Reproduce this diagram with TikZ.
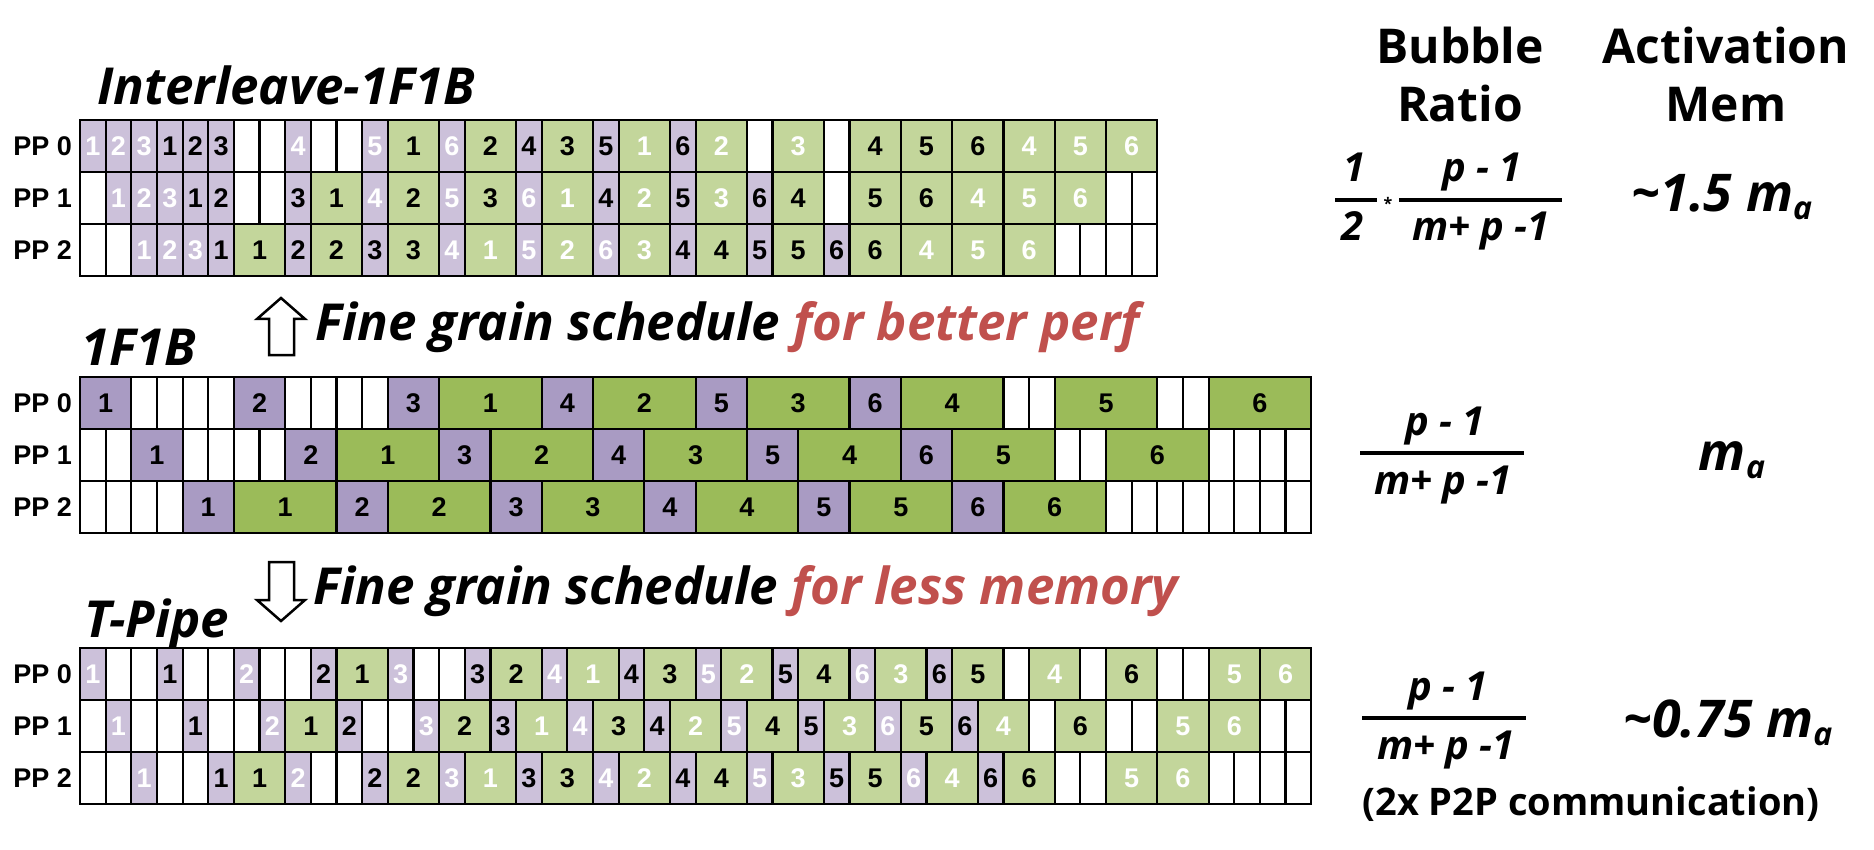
\documentclass[tikz,border=0pt]{standalone}
\usepackage{fontspec}
\setmainfont{Open Sans}
\newfontfamily\arialf{Liberation Sans}
\definecolor{lpur}{HTML}{CCC1DA}
\definecolor{lgrn}{HTML}{C3D69B}
\definecolor{dpur}{HTML}{A99BC3}
\definecolor{dgrn}{HTML}{9BBB59}
\definecolor{redtxt}{HTML}{C0504D}
\newcount\cellpos
\expandafter\def\csname cwe\endcsname{1}
\expandafter\def\csname cwa\endcsname{1}
\expandafter\def\csname cwA\endcsname{1}
\expandafter\def\csname cwg\endcsname{2}
\expandafter\def\csname cwG\endcsname{2}
\expandafter\def\csname cwP\endcsname{2}
\expandafter\def\csname cwQ\endcsname{4}
\def\unitw{25.65}
\newcommand\schedrow[4]{%
  \global\cellpos=0
  \foreach \ty/\lb in {#4}{%
    \pgfmathsetmacro\cwid{\csname cw\ty\endcsname*\unitw}%
    \pgfmathsetmacro\cxx{#2+\the\cellpos*\unitw}%
    \edef\mkcell{\noexpand\node[cell, c\ty, minimum width=\cwid pt] (#1-\the\cellpos) at (\cxx, #3) {\lb};}%
    \mkcell
    \global\advance\cellpos by \csname cw\ty\endcsname\relax
  }%
}
\begin{document}
\begin{tikzpicture}[x=1pt,y=-1pt,
  cell/.style={draw=black, line width=2.2pt, anchor=north west, outer sep=0pt, inner sep=0pt, minimum height=52pt, fill=white, text=black, font=\arialf\bfseries\fontsize{27}{27}\selectfont},
  ce/.style={fill=white},
  ca/.style={fill=lpur, text=white},
  cA/.style={fill=lpur, text=black},
  cg/.style={fill=lgrn, text=white},
  cG/.style={fill=lgrn, text=black},
  cP/.style={fill=dpur, text=black},
  cQ/.style={fill=dgrn, text=black},
  pplab/.style={anchor=east, inner sep=0pt, font=\arialf\bfseries\fontsize{27}{27}\selectfont},
  title/.style={anchor=base west, inner sep=0pt, font=\fontsize{51}{51}\selectfont\bfseries\itshape},
  head/.style={anchor=base, inner sep=0pt, font=\fontsize{48}{48}\selectfont\bfseries},
  frac/.style={anchor=base, inner sep=0pt, font=\fontsize{40}{40}\selectfont\bfseries\itshape},
  fbar/.style={line width=3.5pt},
  mem/.style={anchor=base, inner sep=0pt, font=\fontsize{52}{52}\selectfont\bfseries\itshape},
  note/.style={anchor=base, inner sep=0pt, font=\fontsize{38}{38}\selectfont\bfseries},
  blockarrow/.style={draw=black, line width=2.5pt, fill=white, line join=miter},
]
\useasboundingbox (0,0) rectangle (1874,850);
% titles
\node[title] (tIL) at (97,105) {Interleave-1F1B};
\node[title] (t1F) at (81,365) {1F1B};
\node[title] (tTP) at (84,637) {T-Pipe};
% interleave
\node[pplab] (il0l) at (72,146) {PP 0};
\node[pplab] (il1l) at (72,198) {PP 1};
\node[pplab] (il2l) at (72,250) {PP 2};
\schedrow{il0}{80}{120}{a/1,a/2,a/3,A/1,A/2,A/3,e/{},e/{},a/4,e/{},e/{},a/5,G/1,a/6,G/2,A/4,G/3,A/5,g/1,A/6,g/2,e/{},g/3,e/{},G/4,G/5,G/6,g/4,g/5,g/6}
\schedrow{il1}{80}{172}{e/{},a/1,a/2,a/3,A/1,A/2,e/{},e/{},A/3,G/1,a/4,G/2,a/5,G/3,a/6,g/1,A/4,g/2,A/5,g/3,A/6,G/4,e/{},G/5,G/6,g/4,g/5,g/6,e/{},e/{}}
\schedrow{il2}{80}{224}{e/{},e/{},a/1,a/2,a/3,A/1,G/1,A/2,G/2,A/3,G/3,a/4,g/1,a/5,g/2,a/6,g/3,A/4,G/4,A/5,G/5,A/6,G/6,g/4,g/5,g/6,e/{},e/{},e/{},e/{}}
% 1F1B
\node[pplab] (ob0l) at (72,403) {PP 0};
\node[pplab] (ob1l) at (72,455) {PP 1};
\node[pplab] (ob2l) at (72,507) {PP 2};
\schedrow{ob0}{80}{377}{P/1,e/{},e/{},e/{},e/{},P/2,e/{},e/{},e/{},e/{},P/3,Q/1,P/4,Q/2,P/5,Q/3,P/6,Q/4,e/{},e/{},Q/5,e/{},e/{},Q/6}
\schedrow{ob1}{80}{429}{e/{},e/{},P/1,e/{},e/{},e/{},e/{},P/2,Q/1,P/3,Q/2,P/4,Q/3,P/5,Q/4,P/6,Q/5,e/{},e/{},Q/6,e/{},e/{},e/{},e/{}}
\schedrow{ob2}{80}{481}{e/{},e/{},e/{},e/{},P/1,Q/1,P/2,Q/2,P/3,Q/3,P/4,Q/4,P/5,Q/5,P/6,Q/6,e/{},e/{},e/{},e/{},e/{},e/{},e/{},e/{}}
% T-Pipe
\node[pplab] (tp0l) at (72,674) {PP 0};
\node[pplab] (tp1l) at (72,726) {PP 1};
\node[pplab] (tp2l) at (72,778) {PP 2};
\schedrow{tp0}{80}{648}{a/1,e/{},e/{},A/1,e/{},e/{},a/2,e/{},e/{},A/2,G/1,a/3,e/{},e/{},A/3,G/2,a/4,g/1,A/4,G/3,a/5,g/2,A/5,G/4,a/6,g/3,A/6,G/5,e/{},g/4,e/{},G/6,e/{},e/{},g/5,g/6}
\schedrow{tp1}{80}{700}{e/{},a/1,e/{},e/{},A/1,e/{},e/{},a/2,G/1,A/2,e/{},e/{},a/3,G/2,A/3,g/1,a/4,G/3,A/4,g/2,a/5,G/4,A/5,g/3,a/6,G/5,A/6,g/4,e/{},G/6,e/{},e/{},g/5,g/6,e/{},e/{}}
\schedrow{tp2}{80}{752}{e/{},e/{},a/1,e/{},e/{},A/1,G/1,a/2,e/{},e/{},A/2,G/2,a/3,g/1,A/3,G/3,a/4,g/2,A/4,G/4,a/5,g/3,A/5,G/5,a/6,g/4,A/6,G/6,e/{},e/{},g/5,g/6,e/{},e/{},e/{},e/{}}
% arrows and captions
\draw[blockarrow] (257,319) -- (281,298) -- (305,319) -- (294,319) -- (294,355) -- (269,355) -- (269,319) -- cycle;
\node[title] (capup) at (315,340) {Fine grain schedule \textcolor{redtxt}{for better perf}};
\draw[blockarrow] (257,600) -- (281,621) -- (305,600) -- (294,600) -- (294,562) -- (269,562) -- (269,600) -- cycle;
\node[title] (capdn) at (313,604) {Fine grain schedule \textcolor{redtxt}{for less memory}};
% headers
\node[head] (hb1) at (1460,64) {Bubble};
\node[head] (hb2) at (1460,122) {Ratio};
\node[head] (ha1) at (1726,64) {Activation};
\node[head] (ha2) at (1726,122) {Mem};
% interleave formulas
\node[frac] (f1n) at (1354,182) {1};
\draw[fbar] (1335,200) -- (1377,200);
\node[frac] (f1d) at (1352,241) {2};
\node[inner sep=0pt, font=\fontsize{16}{16}\selectfont\bfseries] (fst) at (1388,203) {*};
\node[frac] (f2n) at (1482,182) {p - 1};
\draw[fbar] (1399,200) -- (1562,200);
\node[frac] (f2d) at (1481,241) {m+ p -1};
\node[mem] (m1) at (1722,212) {\textasciitilde 1.5 m\raisebox{-8pt}{\fontsize{32}{32}\selectfont a}};
% 1F1B formulas
\node[frac] (f3n) at (1445,435) {p - 1};
\draw[fbar] (1360,453) -- (1524,453);
\node[frac] (f3d) at (1443,494) {m+ p -1};
\node[mem] (m2) at (1732,470) {m\raisebox{-8pt}{\fontsize{32}{32}\selectfont a}};
% T-Pipe formulas
\node[frac] (f4n) at (1448,700) {p - 1};
\draw[fbar] (1362,718) -- (1526,718);
\node[frac] (f4d) at (1446,759) {m+ p -1};
\node[mem] (m3) at (1728,737) {\textasciitilde 0.75 m\raisebox{-8pt}{\fontsize{32}{32}\selectfont a}};
\node[note] (p2p) at (1591,815) {(2x P2P communication)};
\end{tikzpicture}
\end{document}
